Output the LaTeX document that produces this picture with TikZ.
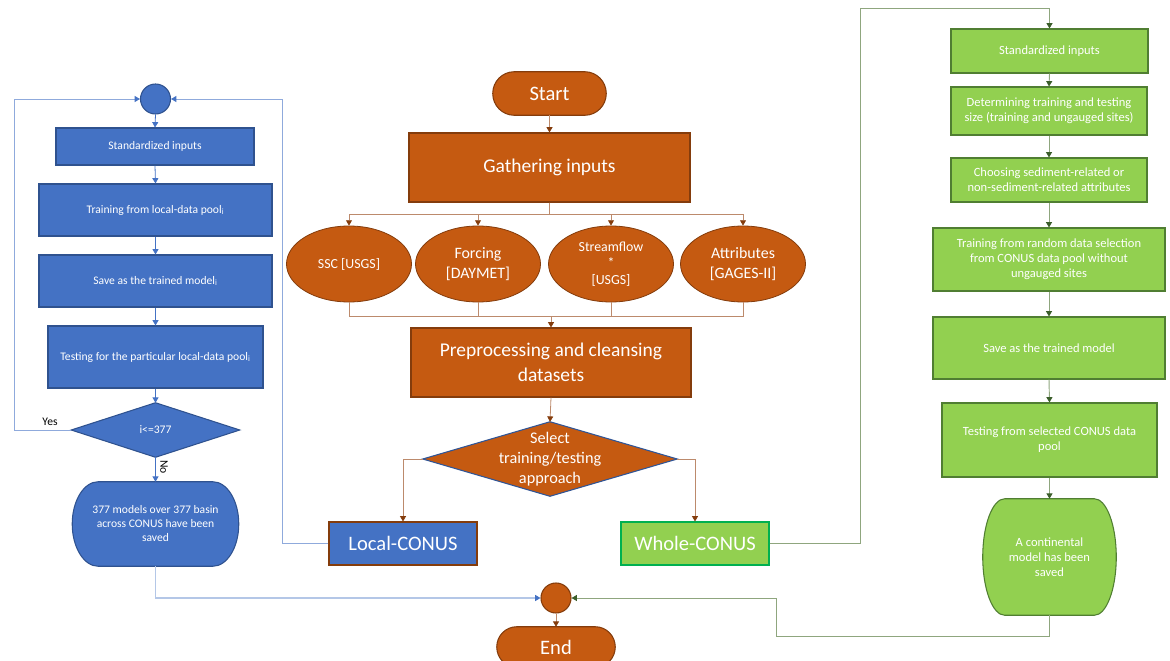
\documentclass[tikz,border=0pt]{standalone}
\usepackage{fontspec}
\setmainfont{Carlito}
\usetikzlibrary{arrows.meta,shapes.geometric,calc,backgrounds}

\definecolor{bluefill}{HTML}{4472C4}
\definecolor{blueedge}{HTML}{2F528F}
\definecolor{bluelight}{HTML}{8FAADC}
\definecolor{bluebot}{HTML}{B4C7E7}
\definecolor{orangefill}{HTML}{C55A11}
\definecolor{orangeedge}{HTML}{843C0C}
\definecolor{orangeline}{HTML}{BC8A6C}
\definecolor{greenfill}{HTML}{92D050}
\definecolor{greenedge}{HTML}{507E32}
\definecolor{greenline}{HTML}{8FA67E}
\definecolor{greentip}{HTML}{3B5E2B}
\definecolor{wholeedge}{HTML}{00B050}
\definecolor{seledge}{HTML}{2F5597}

\newcommand{\fsmall}{\fontsize{8.7}{10.5}\selectfont}
\newcommand{\fgreen}{\fontsize{9.4}{11.3}\selectfont}
\newcommand{\fell}{\fontsize{10.4}{12.5}\selectfont}
\newcommand{\fellb}{\fontsize{11.9}{15}\selectfont}
\newcommand{\fdec}{\fontsize{12.2}{15}\selectfont}
\newcommand{\fbig}{\fontsize{14.6}{18.5}\selectfont}
\newcommand{\fterm}{\fontsize{15.4}{18}\selectfont}

% terminal and decision outlines drawn behind their nodes
\newcommand{\termfill}[4]{%
  \filldraw[fill=#3, draw=#4, line width=0.8pt]
    let \p1=(#1.north west), \p2=(#1.south east) in
    (\x1+#2*0.75pt,\y1) -- (\x2-#2*0.75pt,\y1)
    arc[start angle=90, end angle=-90, x radius=#2*0.75pt, y radius={(\y1-\y2)/2}]
    -- (\x1+#2*0.75pt,\y2)
    arc[start angle=270, end angle=90, x radius=#2*0.75pt, y radius={(\y1-\y2)/2}]
    -- cycle;}
\newcommand{\dmdfill}[3]{%
  \filldraw[fill=#2, draw=#3, line width=0.8pt]
    (#1.west) -- (#1.north) -- (#1.east) -- (#1.south) -- cycle;}

\tikzset{
  sz/.style 2 args={minimum width=#1*0.75pt, minimum height=#2*0.75pt},
  dot/.style={circle, minimum size=30*0.75pt},
  blubox/.style={rectangle, draw=blueedge, fill=bluefill, line width=0.8pt, font=\fsmall},
  grnbox/.style={rectangle, draw=greenedge, fill=greenfill, line width=0.8pt, font=\fgreen},
  orgbox/.style={rectangle, draw=orangeedge, fill=orangefill, line width=0.8pt},
  orgell/.style={ellipse, draw=orangeedge, fill=orangefill, line width=0.6pt, sz={125}{76}},
  lbl/.style={text=black, font=\fsmall},
  blink/.style={draw=bluefill, line width=0.6pt, -{Triangle[length=4pt, width=4.5pt]}},
  bloop/.style={draw=bluelight, line width=0.7pt, -{Triangle[length=4pt, width=4.5pt, color=bluefill]}},
  bbot/.style={draw=bluebot, line width=1.3pt, -{Triangle[length=4pt, width=4.5pt, color=bluefill]}},
  oline/.style={draw=orangeline, line width=0.6pt},
  olink/.style={oline, -{Triangle[length=4pt, width=4.5pt, color=orangeedge]}},
  glink/.style={draw=greenline, line width=0.7pt, -{Triangle[length=4pt, width=4.5pt, color=greentip]}}
}

\begin{document}
\begin{tikzpicture}[x=0.75pt, y=0.75pt,
  every node/.style={align=center, inner sep=0pt, text=white}]
\useasboundingbox (0,0) rectangle (1170,-660);

% local-CONUS loop
\node[blubox, dot] (lcirc) at (155.5,-99) {};
\node[blubox, sz={198}{37}] (bstd) at (155,-146.5) {Standardized inputs};
\node[blubox, sz={233}{52}] (btrn) at (155.5,-210) {Training from local-data pool\textsubscript{i}};
\node[blubox, sz={233}{52}] (bsav) at (155.5,-281) {Save as the trained model\textsubscript{i}};
\node[blubox, sz={215}{62}] (btst) at (155.5,-357) {Testing for the particular local-data pool\textsubscript{i}};
\node[sz={168}{54}, font=\fsmall] (bdec) at (155.5,-430) {i<=377};
\node[sz={166}{84}, font=\fsmall] (bfin) at (155.5,-524) {377 models over 377 basin\\across CONUS have been\\saved};
\node[lbl] (yes) at (50,-422) {Yes};
\node[lbl, rotate=-90] (no) at (164,-467) {No};

% main line
\node[sz={113}{43}, font=\fterm] (start) at (549.5,-93.5) {Start};
\node[orgbox, sz={281}{69}, font=\fbig] (gath) at (549.5,-167.5) {Gathering inputs};
\node[orgell, font=\fell] (ssc) at (349,-264) {SSC [USGS]};
\node[orgell, font=\fellb] (forc) at (478,-264) {Forcing\\{[DAYMET]}};
\node[orgell, font=\fell] (strm) at (611,-264) {Streamflow\\*\\{[USGS]}};
\node[orgell, font=\fellb] (attr) at (743,-264) {Attributes\\{[GAGES-II]}};
\coordinate (mrg) at (551,-316);
\node[orgbox, sz={280}{69}, font=\fbig] (prep) at (551,-362.5) {Preprocessing and cleansing\\datasets};
\node[sz={254}{74}, font=\fdec] (sel) at (550,-459) {Select\\training/testing\\approach};
\node[blubox, draw=orangeedge, sz={148}{43}, font=\fterm] (lcon) at (403,-543.5) {Local-CONUS};
\node[grnbox, draw=wholeedge, sz={148}{43}, font=\fterm] (wcon) at (695,-543.5) {Whole-CONUS};
\node[orgbox, dot] (endc) at (556,-598) {};
\node[sz={118}{40}, font=\fterm] (endt) at (556,-647) {End};

% whole-CONUS line
\node[grnbox, sz={197}{44}] (gstd) at (1049.5,-51) {Standardized inputs};
\node[grnbox, sz={196}{48}] (gdet) at (1049,-111) {Determining training and testing\\size (training and ungauged sites)};
\node[grnbox, sz={196}{44}] (gcho) at (1049,-180) {Choosing sediment-related or\\non-sediment-related attributes};
\node[grnbox, sz={232}{63}] (gtrn) at (1049,-259.5) {Training from random data selection\\from CONUS data pool without\\ungauged sites};
\node[grnbox, sz={232}{62}] (gsav) at (1049,-348) {Save as the trained model};
\node[grnbox, sz={215}{74}] (gtst) at (1049.5,-440) {Testing from selected CONUS data\\pool};
\node[sz={133}{116}, font=\fgreen] (gfin) at (1049.5,-557) {A continental\\model has been\\saved};

\begin{scope}[on background layer]
  \termfill{start}{21.5}{orangefill}{orangeedge}
  \termfill{endt}{20}{orangefill}{orangeedge}
  \termfill{bfin}{26}{bluefill}{blueedge}
  \termfill{gfin}{22}{greenfill}{greenedge}
  \dmdfill{bdec}{bluefill}{blueedge}
  \dmdfill{sel}{orangefill}{seledge}
\end{scope}

% connectors
\draw[blink] (lcirc.south) -- (bstd.north);
\draw[blink] (bstd.south) -- (btrn.north);
\draw[blink] (btrn.south) -- (bsav.north);
\draw[blink] (bsav.south) -- (btst.north);
\draw[blink] (btst.south) -- (bdec.north);
\draw[blink] (bdec.south) -- (bfin.north);
\draw[bloop] (bdec.west) -- (14,-430) |- (lcirc.west);
\draw[bloop] (lcon.west) -- (282,-543.5) |- (lcirc.east);
\draw[bbot] (bfin.south) |- (endc.west);

\draw[olink] (start.south) -- (gath.north);
\foreach \n in {ssc,forc,strm,attr}
  \draw[olink] (gath.south) -- ++(0,-12) -| (\n.north);
\foreach \n in {ssc,forc,strm,attr}
  \draw[oline] (\n.south) |- (mrg);
\draw[olink] (mrg) -- (prep.north);
\draw[olink] (prep.south) -- (sel.north);
\draw[olink] (sel.west) -| (lcon.north);
\draw[olink] (sel.east) -| (wcon.north);
\draw[olink] (endc.south) -- (endt.north);

\draw[glink] (wcon.east) -| (860,-8) -| (gstd.north);
\draw[glink] (gstd.south) -- (gdet.north);
\draw[glink] (gdet.south) -- (gcho.north);
\draw[glink] (gcho.south) -- (gtrn.north);
\draw[glink] (gtrn.south) -- (gsav.north);
\draw[glink] (gsav.south) -- (gtst.north);
\draw[glink] (gtst.south) -- (gfin.north);
\draw[glink] (gfin.south) |- (776,-636) |- (endc.east);
\end{tikzpicture}
\end{document}
